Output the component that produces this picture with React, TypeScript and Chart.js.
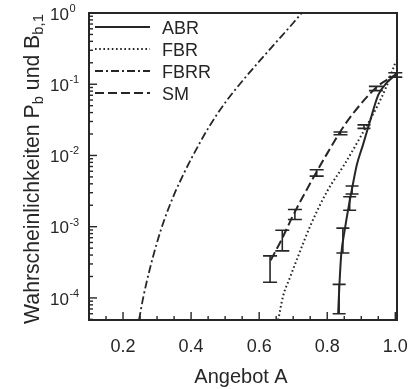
import React, { useEffect, useRef } from 'react';
import { Chart, registerables } from 'chart.js';

Chart.register(...registerables);

const FONT = '"Liberation Sans", Arial, Helvetica, sans-serif';
const INK = '#262626';

// ---- data ----
const seriesNames = ['ABR', 'FBR', 'FBRR', 'SM'];

const abrX = [0.832, 0.836, 0.841, 0.852, 0.863, 0.874, 0.887, 0.905, 0.925, 0.95, 0.975, 1.0];
const abrY = [6.0e-5, 1.58e-4, 3.98e-4, 9.33e-4, 1.91e-3, 3.63e-3, 7.41e-3, 0.0141, 0.0295, 0.0708, 0.105, 0.135];

const fbrX = [0.656, 0.67, 0.69, 0.71, 0.75, 0.8, 0.85, 0.9, 0.95, 0.975, 1.0];
const fbrY = [4.9e-5, 1.05e-4, 1.91e-4, 3.39e-4, 1.02e-3, 3.16e-3, 7.41e-3, 0.0191, 0.0525, 0.0955, 0.2];

const fbrrX = [0.247, 0.26, 0.28, 0.3, 0.32, 0.35, 0.38, 0.4, 0.45, 0.5, 0.55, 0.6, 0.65, 0.7, 0.725];
const fbrrY = [4.9e-5, 1.05e-4, 2.69e-4, 6.03e-4, 1.2e-3, 2.82e-3, 5.75e-3, 8.91e-3, 0.024, 0.055, 0.11, 0.209, 0.389, 0.724, 1.0];

const smX = [0.634, 0.665, 0.7, 0.75, 0.8, 0.85, 0.9, 0.95, 1.0];
const smY = [3.39e-4, 6.46e-4, 1.45e-3, 4.07e-3, 0.0107, 0.0263, 0.0537, 0.0955, 0.135];

// simulation results with confidence intervals
const smBarX = [0.632, 0.668, 0.705, 0.769, 0.839, 0.943, 1.0];
const smBarLo = [1.66e-4, 4.57e-4, 1.26e-3, 5.13e-3, 0.0195, 0.0813, 0.126];
const smBarHi = [3.89e-4, 8.9e-4, 1.74e-3, 6.31e-3, 0.0214, 0.0933, 0.145];

const abrBarX = [0.835, 0.846, 0.866, 0.873, 0.908];
const abrBarLo = [6.0e-5, 4.27e-4, 1.7e-3, 2.88e-3, 0.024];
const abrBarHi = [1.55e-4, 9.55e-4, 2.63e-3, 3.72e-3, 0.0269];

const xTickValues = [0.2, 0.4, 0.6, 0.8, 1.0];
const xTickLabels = ['0.2', '0.4', '0.6', '0.8', '1.0'];
const yDecadeExponents = [0, -1, -2, -3, -4];
const xTitle = 'Angebot A';
const yTitleParts: [string, boolean][] = [
  ['Wahrscheinlichkeiten P', false],
  ['b', true],
  [' und B', false],
  ['b,1', true],
];

const X_MIN = 0.1;
const X_MAX = 1.005;
const Y_MIN = 4.9e-5;
const Y_MAX = 1;

const pts = (xs: number[], ys: number[]) => xs.map((x, i) => ({ x, y: ys[i] }));

const decorPlugin = {
  id: 'decor',
  afterDatasetsDraw(chart: any) {
    const { ctx, chartArea: a, scales } = chart;
    const xs = scales.x;
    const ys = scales.y;
    ctx.save();
    ctx.strokeStyle = INK;
    ctx.fillStyle = INK;
    ctx.setLineDash([]);

    // error bars
    const drawBars = (bx: number[], lo: number[], hi: number[], half: number) => {
      ctx.lineWidth = 1.6;
      for (let i = 0; i < bx.length; i++) {
        const px = xs.getPixelForValue(bx[i]);
        const p1 = ys.getPixelForValue(lo[i]);
        const p2 = ys.getPixelForValue(hi[i]);
        ctx.beginPath();
        ctx.moveTo(px, p1);
        ctx.lineTo(px, p2);
        ctx.moveTo(px - half, p1);
        ctx.lineTo(px + half, p1);
        ctx.moveTo(px - half, p2);
        ctx.lineTo(px + half, p2);
        ctx.stroke();
      }
    };
    drawBars(smBarX, smBarLo, smBarHi, 7);
    drawBars(abrBarX, abrBarLo, abrBarHi, 6.5);

    // frame
    ctx.lineWidth = 2;
    ctx.strokeRect(a.left, a.top, a.right - a.left, a.bottom - a.top);

    // x ticks (inward)
    ctx.lineWidth = 1.4;
    for (let k = 3; k <= 20; k++) {
      const v = k * 0.05;
      const px = xs.getPixelForValue(v);
      const len = k % 4 === 0 ? 8 : 4;
      ctx.beginPath();
      ctx.moveTo(px, a.bottom);
      ctx.lineTo(px, a.bottom - len);
      ctx.stroke();
    }
    // y ticks (inward, log)
    for (let e = -5; e <= 0; e++) {
      for (let m = 1; m <= 9; m++) {
        const v = m * Math.pow(10, e);
        if (v < Y_MIN || v > Y_MAX) continue;
        const py = ys.getPixelForValue(v);
        const len = m === 1 ? 8 : 4;
        ctx.beginPath();
        ctx.moveTo(a.left, py);
        ctx.lineTo(a.left + len, py);
        ctx.stroke();
      }
    }

    // x tick labels
    ctx.font = `18px ${FONT}`;
    ctx.textAlign = 'center';
    ctx.textBaseline = 'middle';
    xTickValues.forEach((v, i) => {
      ctx.fillText(xTickLabels[i], xs.getPixelForValue(v), 347);
    });

    // y tick labels 10^e
    yDecadeExponents.forEach((e) => {
      const py = ys.getPixelForValue(Math.pow(10, e));
      ctx.font = `17px ${FONT}`;
      ctx.textAlign = 'left';
      ctx.textBaseline = 'middle';
      ctx.fillText('10', 50, py + 2);
      const w = ctx.measureText('10').width;
      ctx.font = `11px ${FONT}`;
      ctx.fillText(String(e), 50 + w + 0.5, py - 4);
    });

    // x title
    ctx.font = `20px ${FONT}`;
    ctx.textAlign = 'center';
    ctx.textBaseline = 'middle';
    ctx.fillText(xTitle, 241, 377);

    // y title (rotated, with subscripts)
    const base = 20;
    const measure = (fs: number) => {
      let tot = 0;
      yTitleParts.forEach(([t, sub]) => {
        ctx.font = `${sub ? fs * 0.7 : fs}px ${FONT}`;
        tot += ctx.measureText(t).width;
      });
      return tot;
    };
    const fs = (base * 310) / measure(base);
    const total = measure(fs);
    ctx.save();
    ctx.translate(33, 169);
    ctx.rotate(-Math.PI / 2);
    ctx.textAlign = 'left';
    ctx.textBaseline = 'middle';
    let cx = -total / 2;
    yTitleParts.forEach(([t, sub]) => {
      ctx.font = `${sub ? fs * 0.7 : fs}px ${FONT}`;
      ctx.fillText(t, cx, sub ? fs * 0.3 : 0);
      cx += ctx.measureText(t).width;
    });
    ctx.restore();

    // legend inside plot
    const legendY = [27, 49, 71, 93];
    chart.data.datasets.forEach((ds: any, i: number) => {
      const y = legendY[i];
      ctx.lineWidth = ds.borderWidth;
      ctx.setLineDash(ds.borderDash || []);
      ctx.beginPath();
      ctx.moveTo(95, y);
      ctx.lineTo(150, y);
      ctx.stroke();
      ctx.setLineDash([]);
      ctx.font = `18px ${FONT}`;
      ctx.textAlign = 'left';
      ctx.textBaseline = 'middle';
      ctx.fillText(ds.label, 162, y + 2);
    });

    ctx.restore();
  },
};

export default function App() {
  const ref = useRef<HTMLCanvasElement>(null);
  useEffect(() => {
    document.body.style.margin = '0';
    const common = {
      showLine: true,
      pointRadius: 0,
      pointHoverRadius: 0,
      borderColor: INK,
      backgroundColor: INK,
      fill: false,
      cubicInterpolationMode: 'monotone' as const,
    };
    const chart = new Chart(ref.current!, {
      type: 'scatter',
      data: {
        datasets: [
          { ...common, label: seriesNames[0], data: pts(abrX, abrY), borderWidth: 2, borderDash: [] },
          { ...common, label: seriesNames[1], data: pts(fbrX, fbrY), borderWidth: 2, borderDash: [1.6, 2.6] },
          { ...common, label: seriesNames[2], data: pts(fbrrX, fbrrY), borderWidth: 1.8, borderDash: [8, 3, 2, 3] },
          { ...common, label: seriesNames[3], data: pts(smX, smY), borderWidth: 2, borderDash: [9, 4] },
        ],
      },
      options: {
        animation: false,
        responsive: false,
        layout: { padding: { left: 0, top: 13, right: 18, bottom: 0 } },
        plugins: { legend: { display: false }, tooltip: { enabled: false } },
        scales: {
          x: {
            type: 'linear',
            min: X_MIN,
            max: X_MAX,
            grid: { display: false },
            border: { display: false },
            ticks: { display: false },
            afterFit: (s: any) => {
              s.height = 69;
            },
          },
          y: {
            type: 'logarithmic',
            min: Y_MIN,
            max: Y_MAX,
            grid: { display: false },
            border: { display: false },
            ticks: { display: false },
            afterFit: (s: any) => {
              s.width = 89;
            },
          },
        },
      },
      plugins: [decorPlugin],
    });
    return () => chart.destroy();
  }, []);
  return <canvas ref={ref} width={415} height={389} style={{ display: 'block' }} />;
}
